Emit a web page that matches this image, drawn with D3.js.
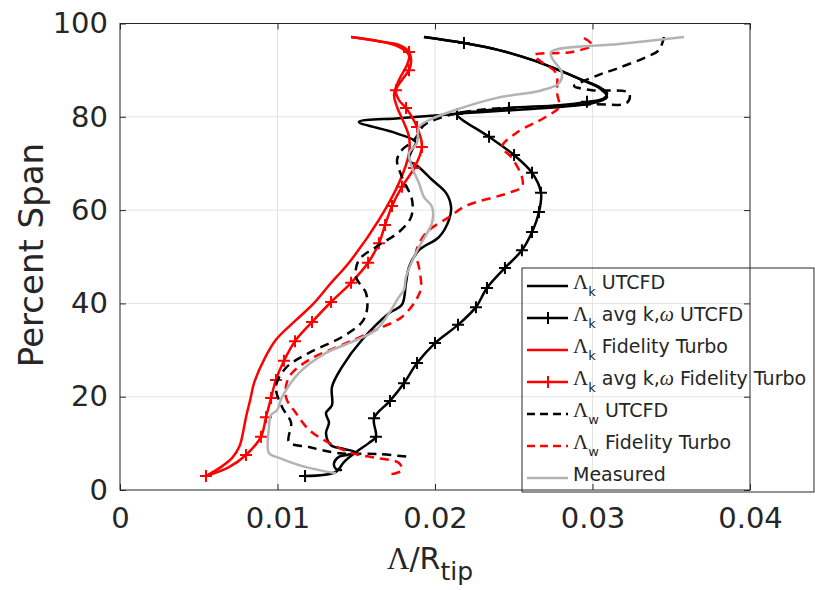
<!DOCTYPE html>
<html>
<head>
<meta charset="utf-8">
<script src="https://cdn.jsdelivr.net/npm/d3@7"></script>
<style>
  html, body { margin: 0; padding: 0; background: #fff; }
  svg { display: block; }
</style>
</head>
<body>
<svg id="chart" width="815" height="590"></svg>
<script>
// Tip-vortex length scale vs. span: [Λ/R_tip, percent span]
const kUtcfd = [
  [0.01410,4.3],[0.01371,4.5],[0.01359,5.8],[0.01390,7.1],[0.01441,7.5],[0.01498,8.1],[0.01422,8.8],
  [0.01340,9.6],[0.01308,12.2],[0.01327,14.4],[0.01308,16.5],[0.01346,18.2],[0.01346,22.1],[0.01410,26.4],
  [0.01537,32.2],[0.01708,37.9],[0.01790,39.7],[0.01816,44.4],[0.01835,47.8],[0.01898,51.4],[0.02025,54.2],
  [0.02089,57.9],[0.02102,60.7],[0.02070,63.7],[0.01981,66.5],[0.01898,69.2],[0.01835,70.7],[0.01854,72.9],
  [0.01879,74.6],[0.01752,76.5],[0.01517,78.9],[0.01771,79.7],[0.02044,80.4],[0.02279,81.0],[0.02533,81.5],
  [0.02787,82.1],[0.03010,83.0],[0.03092,84.2],[0.03041,86.2],[0.02933,87.9],[0.02787,90.0],[0.02616,92.2],
  [0.02406,94.3],[0.02184,95.8],[0.01930,97.1]
];
const kAvgUtcfd = [
  [0.01930,97.1],[0.02184,95.8],[0.02406,94.3],[0.02616,92.2],[0.02787,90.0],[0.02933,87.9],[0.03041,86.4],
  [0.03092,85.1],[0.03073,84.0],[0.02965,83.2],[0.02787,82.5],[0.02470,81.9],[0.02279,81.2],[0.02140,80.6],
  [0.02343,75.7],[0.02502,71.8],[0.02616,68.0],[0.02673,63.7],[0.02660,59.6],[0.02616,55.3],[0.02552,51.4],
  [0.02444,47.6],[0.02330,43.3],[0.02260,39.2],[0.02146,35.4],[0.02000,31.5],[0.01886,27.2],[0.01803,22.9],
  [0.01714,19.1],[0.01613,15.4],[0.01625,11.4],[0.01581,10.1],[0.01498,8.1],[0.01422,6.0],[0.01371,3.9],
  [0.01175,3.0]
];
const kAvgUtcfdMarks = [1,9,11,13,14,15,16,17,18,19,20,21,22,23,24,25,26,27,28,29,30,35];
const kFt = [
  [0.00546,3.0],[0.00640,4.9],[0.00715,7.0],[0.00760,9.5],[0.00782,12.5],[0.00800,15.6],[0.00828,19.5],
  [0.00851,22.9],[0.00914,27.9],[0.00990,32.2],[0.01117,36.4],[0.01230,40.0],[0.01330,44.0],[0.01460,49.0],
  [0.01644,57.9],[0.01771,65.8],[0.01835,72.2],[0.01835,75.7],[0.01803,78.7],[0.01759,82.1],[0.01740,84.7],
  [0.01771,87.9],[0.01822,91.1],[0.01835,93.2],[0.01771,95.0],[0.01644,96.2],[0.01467,97.1]
];
const kAvgFt = [
  [0.01467,97.1],[0.01644,96.2],[0.01771,95.4],[0.01835,93.9],[0.01848,91.7],[0.01835,90.0],[0.01790,87.9],
  [0.01752,85.7],[0.01771,83.6],[0.01816,81.9],[0.01886,77.8],[0.01917,73.5],[0.01867,69.0],[0.01790,65.0],
  [0.01727,60.9],[0.01683,56.8],[0.01644,52.9],[0.01575,48.7],[0.01467,44.4],[0.01340,40.3],[0.01219,36.0],
  [0.01111,31.9],[0.01041,27.7],[0.00990,23.6],[0.00959,19.7],[0.00927,15.6],[0.00895,11.4],[0.00800,7.5],
  [0.00692,4.9],[0.00546,3.0]
];
const kAvgFtMarks = [3,5,7,9,10,11,12,13,14,15,16,17,18,19,20,21,22,23,24,25,26,27,29];
const wUtcfd = [
  [0.03454,97.1],[0.03422,94.3],[0.03340,92.8],[0.03168,90.5],[0.03041,89.0],[0.02933,87.5],[0.02883,86.6],
  [0.02997,85.7],[0.03232,85.1],[0.03219,83.0],[0.02997,82.7],[0.02660,82.1],[0.02343,81.7],[0.02152,80.8],
  [0.02025,79.7],[0.01930,78.2],[0.01867,75.0],[0.01790,72.9],[0.01759,70.7],[0.01790,67.1],[0.01854,62.2],
  [0.01848,58.5],[0.01771,55.3],[0.01625,52.1],[0.01517,49.3],[0.01498,45.7],[0.01562,42.2],[0.01568,38.6],
  [0.01537,36.0],[0.01410,32.8],[0.01200,29.4],[0.01054,26.2],[0.00990,22.1],[0.01029,17.8],[0.01086,14.4],
  [0.01073,10.3],[0.01200,9.2],[0.01390,7.9],[0.01644,7.7],[0.01835,7.1]
];
const wFt = [
  [0.02946,96.9],[0.02997,95.4],[0.02870,93.9],[0.02629,93.2],[0.02679,91.7],[0.02768,89.4],[0.02775,85.1],
  [0.02787,82.1],[0.02705,80.0],[0.02514,76.5],[0.02425,73.5],[0.02483,71.4],[0.02552,67.1],[0.02552,65.0],
  [0.02470,63.7],[0.02197,60.9],[0.02089,58.5],[0.01943,55.1],[0.01879,50.8],[0.01898,47.8],[0.01911,43.3],
  [0.01879,40.7],[0.01790,37.1],[0.01625,34.3],[0.01410,31.1],[0.01200,27.9],[0.01073,24.2],[0.01054,19.9],
  [0.01117,16.5],[0.01200,12.9],[0.01327,10.1],[0.01473,7.9],[0.01625,6.9],[0.01771,5.8],[0.01790,4.3],
  [0.01752,3.6],[0.01708,3.4]
];
const measured = [
  [0.03581,97.1],[0.03168,95.6],[0.02737,93.9],[0.02743,92.6],[0.02806,89.4],[0.02787,87.2],[0.02679,85.7],
  [0.02387,84.0],[0.02133,81.5],[0.01962,79.3],[0.01898,77.8],[0.01886,74.4],[0.01835,72.2],[0.01854,69.2],
  [0.01898,65.8],[0.01930,62.8],[0.01981,60.7],[0.01981,57.2],[0.01943,54.7],[0.01879,50.8],[0.01816,45.7],
  [0.01803,42.9],[0.01771,41.4],[0.01708,37.9],[0.01625,34.3],[0.01454,31.5],[0.01308,29.4],[0.01137,25.1],
  [0.01029,19.9],[0.00997,17.1],[0.00959,16.1],[0.00946,13.5],[0.00946,7.9],[0.01010,6.9],[0.01181,4.9],
  [0.01371,3.6]
];

const xTicks = [0, 0.01, 0.02, 0.03, 0.04];
const xTickLabels = ["0", "0.01", "0.02", "0.03", "0.04"];
const yTicks = [0, 20, 40, 60, 80, 100];

const series = [
  { data: kUtcfd,    color: "#000000", dash: null, marks: null,          sub: "k", name: [" UTCFD"] },
  { data: kAvgUtcfd, color: "#000000", dash: null, marks: kAvgUtcfdMarks, sub: "k", name: [" avg k,", "ω", " UTCFD"] },
  { data: kFt,       color: "#ff0000", dash: null, marks: null,          sub: "k", name: [" Fidelity Turbo"] },
  { data: kAvgFt,    color: "#ff0000", dash: null, marks: kAvgFtMarks,   sub: "k", name: [" avg k,", "ω", " Fidelity Turbo"] },
  { data: wUtcfd,    color: "#000000", dash: "9,6", marks: null,         sub: "w", name: [" UTCFD"] },
  { data: wFt,       color: "#ff0000", dash: "9,6", marks: null,         sub: "w", name: [" Fidelity Turbo"] },
  { data: measured,  color: "#b3b3b3", dash: null, marks: null,          sub: null, name: ["Measured"] }
];

const svg = d3.select("#chart");
const L = 120, R = 750, T = 23.5, B = 490;
const x = d3.scaleLinear().domain([0, 0.04]).range([L, R]);
const y = d3.scaleLinear().domain([0, 100]).range([B, T]);
const axisColor = "#262626";
const sans = "'DejaVu Sans', sans-serif";
const serif = "'Liberation Serif', 'DejaVu Serif', serif";

// grid
const grid = svg.append("g").attr("stroke", "#e3e3e3").attr("stroke-width", 1);
grid.selectAll("line.gx").data(xTicks.slice(1, -1)).join("line")
  .attr("x1", d => x(d)).attr("x2", d => x(d)).attr("y1", T).attr("y2", B);
grid.selectAll("line.gy").data(yTicks.slice(1, -1)).join("line")
  .attr("y1", d => y(d)).attr("y2", d => y(d)).attr("x1", L).attr("x2", R);

// axes with inward ticks on all four sides
function styleAxis(g) {
  g.select(".domain").remove();
  g.selectAll(".tick line").attr("stroke", axisColor);
  g.selectAll(".tick text").attr("fill", axisColor).attr("font-family", sans).attr("font-size", 29);
}
svg.append("g").attr("transform", `translate(0,${B})`)
  .call(d3.axisBottom(x).tickValues(xTicks).tickFormat((d, i) => xTickLabels[i]).tickSize(-6).tickPadding(17))
  .call(styleAxis);
svg.append("g").attr("transform", `translate(${L},0)`)
  .call(d3.axisLeft(y).tickValues(yTicks).tickSize(-6).tickPadding(12))
  .call(styleAxis);
svg.append("g").attr("transform", `translate(0,${T})`)
  .call(d3.axisTop(x).tickValues(xTicks).tickSize(-6).tickFormat(""))
  .call(styleAxis);
svg.append("g").attr("transform", `translate(${R},0)`)
  .call(d3.axisRight(y).tickValues(yTicks).tickSize(-6).tickFormat(""))
  .call(styleAxis);

// series
const line = d3.line().x(d => x(d[0])).y(d => y(d[1])).curve(d3.curveCatmullRom.alpha(0.5));
const plus = "M-6,0H6M0,-6V6";
const plot = svg.append("g");
series.forEach(s => {
  plot.append("path").datum(s.data)
    .attr("d", line)
    .attr("fill", "none")
    .attr("stroke", s.color)
    .attr("stroke-width", 2.5)
    .attr("stroke-linejoin", "round")
    .attr("stroke-dasharray", s.dash);
  if (s.marks) {
    plot.append("g").selectAll("path").data(s.marks.map(i => s.data[i])).join("path")
      .attr("d", plus)
      .attr("transform", d => `translate(${x(d[0])},${y(d[1])})`)
      .attr("stroke", s.color).attr("stroke-width", 2).attr("fill", "none");
  }
});

// frame
svg.append("rect").attr("x", L).attr("y", T).attr("width", R - L).attr("height", B - T)
  .attr("fill", "none").attr("stroke", axisColor).attr("stroke-width", 1);

// axis labels
const xl = svg.append("text").attr("x", 387).attr("y", 569).attr("fill", axisColor);
xl.append("tspan").attr("font-family", serif).attr("font-size", 31).text("Λ");
xl.append("tspan").attr("font-family", sans).attr("font-size", 30).text("/R");
xl.append("tspan").attr("font-family", sans).attr("font-size", 25).attr("dy", 11).text("tip");

svg.append("text")
  .attr("transform", "translate(43,255) rotate(-90)")
  .attr("text-anchor", "middle")
  .attr("font-family", sans).attr("font-size", 34).attr("fill", axisColor)
  .text("Percent Span");

// legend
const lg = svg.append("g");
lg.append("rect").attr("x", 522).attr("y", 268).attr("width", 292).attr("height", 224)
  .attr("fill", "none").attr("stroke", axisColor).attr("stroke-width", 1);
series.forEach((s, i) => {
  const cy = 286 + i * 32;
  lg.append("line").attr("x1", 527).attr("x2", 568).attr("y1", cy).attr("y2", cy)
    .attr("stroke", s.color).attr("stroke-width", 2.5).attr("stroke-dasharray", s.dash ? "8,5" : null);
  if (s.marks) {
    lg.append("path").attr("d", plus).attr("transform", `translate(548,${cy})`)
      .attr("stroke", s.color).attr("stroke-width", 2).attr("fill", "none");
  }
  const t = lg.append("text").attr("x", 573).attr("y", cy + 3).attr("fill", axisColor)
    .attr("font-family", sans).attr("font-size", 19);
  if (s.sub) {
    t.append("tspan").attr("font-family", serif).attr("font-size", 21).text("Λ");
    t.append("tspan").attr("font-size", 13).attr("dy", 7).text(s.sub);
  }
  s.name.forEach((part, j) => {
    const sp = t.append("tspan").text(part);
    if (j === 0 && s.sub) sp.attr("dy", -7);
    if (part === "ω") sp.attr("font-family", serif).attr("font-style", "italic").attr("font-size", 20);
  });
});
</script>
</body>
</html>
